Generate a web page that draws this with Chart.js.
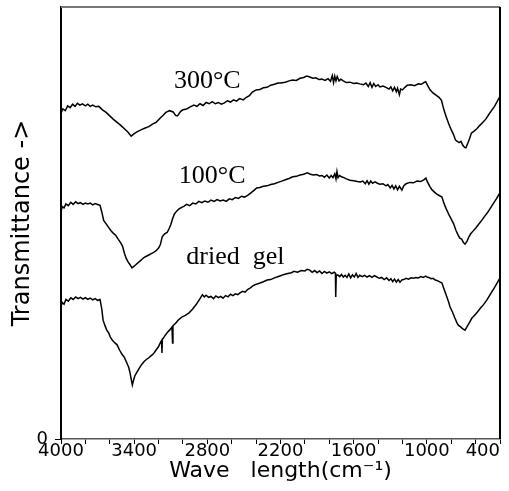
<!DOCTYPE html>
<html>
<head>
<meta charset="utf-8">
<script src="https://cdn.jsdelivr.net/npm/chart.js@4"></script>
<style>
  html, body { margin: 0; padding: 0; background: #fff; }
  canvas { display: block; }
</style>
</head>
<body>
<canvas id="chart" width="509" height="491"></canvas>
<script>
// IR spectra, wavenumber (cm-1) vs transmittance (arbitrary, 0 at the bottom axis)
const wave300 = [4000,3985,3965,3945,3925,3905,3885,3865,3845,3825,3800,3780,3760,3740,3715,3690,3660,3630,3600,3570,3540,3510,3480,3450,3425,3400,3370,3340,3310,3280,3250,3220,3190,3160,3140,3110,3080,3060,3045,3020,3000,2970,2940,2910,2885,2860,2835,2810,2785,2760,2735,2710,2685,2660,2635,2610,2585,2560,2535,2505,2480,2455,2430,2400,2370,2340,2310,2280,2250,2220,2200,2160,2130,2100,2070,2040,2010,1985,1960,1935,1910,1885,1860,1835,1810,1790,1775,1765,1755,1745,1735,1720,1705,1685,1660,1630,1600,1575,1550,1520,1500,1480,1465,1450,1435,1420,1400,1385,1360,1335,1310,1295,1280,1265,1250,1240,1225,1215,1200,1180,1160,1130,1100,1070,1045,1025,1010,995,975,950,925,900,880,860,840,820,800,780,765,750,735,720,705,690,680,665,650,635,615,590,565,540,515,495,470,445,420,400];
const trans300 = [75.4,76.4,76.0,77.1,76.7,77.5,77.0,77.7,77.3,77.6,77.1,77.5,77.0,77.3,76.9,77.0,76.2,75.6,74.8,74.0,73.3,72.6,71.8,71.0,70.1,70.7,71.2,71.6,72.0,72.3,72.9,73.3,74.2,75.0,75.6,76.0,75.7,74.9,74.8,75.8,76.2,76.4,76.9,77.3,77.0,77.6,77.2,77.9,77.6,78.1,77.6,77.9,77.5,77.8,78.3,78.0,78.5,78.2,78.8,78.5,79.1,79.5,80.3,80.8,80.9,81.3,81.4,81.9,82.1,82.4,82.4,82.6,82.9,83.1,83.0,83.5,83.7,84.0,83.8,83.5,83.6,83.2,83.3,83.0,83.4,82.8,84.1,82.5,84.0,82.9,83.9,82.9,83.3,82.9,82.5,82.6,82.3,82.4,82.2,82.0,82.4,81.6,82.5,81.4,82.3,81.6,82.0,81.5,81.7,81.4,81.0,81.5,80.6,81.4,80.4,81.2,79.7,81.0,80.8,81.4,81.9,82.0,81.8,82.2,82.1,82.5,82.7,81.9,80.9,80.1,79.6,79.1,78.4,76.2,74.5,72.9,71.6,70.4,69.2,68.9,68.6,68.9,68.0,67.5,67.4,68.4,69.5,70.8,71.2,71.8,72.6,73.3,74.1,75.0,76.0,77.0,78.3,79.3];

const wave100 = [4000,3990,3975,3960,3940,3920,3900,3880,3860,3840,3820,3800,3780,3760,3740,3720,3700,3680,3665,3650,3630,3610,3590,3570,3550,3530,3510,3495,3480,3465,3450,3435,3418,3400,3380,3360,3340,3320,3300,3280,3260,3240,3220,3200,3185,3170,3150,3130,3115,3100,3085,3070,3050,3030,3010,2990,2970,2945,2920,2895,2870,2845,2820,2795,2770,2745,2720,2695,2670,2645,2620,2595,2570,2545,2520,2495,2470,2445,2420,2395,2370,2340,2310,2280,2250,2220,2190,2160,2130,2100,2070,2040,2010,1980,1955,1930,1905,1880,1860,1840,1820,1800,1785,1770,1755,1745,1737,1728,1715,1700,1680,1660,1630,1600,1570,1545,1525,1505,1490,1475,1460,1445,1425,1405,1385,1360,1335,1320,1300,1285,1270,1255,1240,1225,1205,1190,1170,1140,1110,1080,1050,1025,1008,995,975,955,935,915,895,876,860,840,820,800,780,760,745,730,715,700,687,670,655,640,625,600,575,550,525,505,480,455,430,400];
const trans100 = [52.6,53.8,53.5,54.4,54.0,54.8,54.3,54.9,54.5,54.7,54.3,54.6,54.4,54.6,54.2,54.5,54.3,54.1,52.5,50.6,49.8,49.0,48.2,47.6,47.1,46.2,45.4,44.6,43.0,41.8,41.0,40.4,39.6,40.0,40.5,41.0,41.5,42.0,42.3,42.6,42.9,43.2,43.6,44.2,45.0,46.8,47.5,47.8,48.6,49.6,51.0,52.1,52.8,53.3,53.6,53.9,54.3,54.0,54.6,54.4,55.0,54.7,55.1,54.8,55.3,55.0,55.4,55.1,55.3,55.0,55.6,55.4,55.9,55.7,56.2,56.0,56.4,56.9,57.5,58.1,58.2,58.5,58.6,58.9,59.1,59.4,59.7,60.0,60.3,60.7,60.8,61.1,61.3,61.6,61.3,61.1,61.2,60.9,61.0,60.6,61.1,60.4,61.0,60.5,61.4,60.2,61.9,60.5,61.0,60.7,60.5,60.2,59.9,59.8,59.6,59.5,59.7,59.1,59.8,59.0,59.7,59.2,59.5,59.2,59.0,59.1,58.6,58.9,58.1,58.7,57.9,58.6,57.7,58.5,57.6,58.6,59.1,59.4,59.3,59.7,59.6,60.0,60.4,59.5,58.4,57.6,57.1,56.6,56.3,56.0,54.6,53.2,52.0,50.9,49.8,48.2,47.3,46.5,46.3,45.5,45.1,45.8,46.8,47.5,48.0,48.8,49.7,50.6,51.6,52.3,53.4,54.5,55.6,57.0];

const waveGel = [4000,3990,3975,3960,3940,3920,3900,3880,3860,3840,3820,3800,3780,3760,3740,3720,3700,3680,3665,3655,3640,3625,3610,3595,3580,3560,3540,3520,3500,3480,3460,3445,3434,3425,3415,3405,3395,3377,3360,3340,3320,3300,3280,3260,3240,3220,3200,3185,3175,3172,3169,3150,3130,3110,3090,3085,3082,3060,3040,3010,2980,2950,2920,2890,2860,2840,2825,2810,2790,2770,2750,2730,2710,2690,2672,2650,2630,2610,2590,2570,2550,2532,2510,2490,2470,2450,2430,2410,2390,2368,2340,2310,2280,2250,2229,2200,2170,2140,2110,2090,2060,2030,2000,1980,1960,1940,1920,1900,1880,1860,1840,1820,1800,1780,1760,1750,1747,1743,1730,1715,1700,1685,1670,1655,1640,1625,1610,1595,1580,1565,1550,1530,1510,1490,1470,1450,1430,1410,1390,1370,1350,1330,1310,1295,1280,1265,1250,1235,1220,1205,1190,1170,1150,1130,1110,1090,1070,1050,1030,1010,999,985,965,950,930,910,890,876,860,840,820,810,790,770,753,740,725,710,698,687,670,650,630,610,585,560,535,507,480,455,430,400];
const transGel = [30.6,31.6,31.2,32.3,31.9,32.7,32.3,32.9,32.5,32.8,32.4,32.7,32.3,32.6,32.2,32.5,32.1,32.3,30.0,27.5,26.3,25.2,24.6,23.6,22.9,22.3,21.8,20.6,19.6,18.9,17.6,16.6,15.3,14.0,12.5,13.6,14.6,15.5,16.3,17.2,17.9,18.4,18.8,19.3,19.8,20.6,21.4,22.3,22.8,19.9,23.0,23.8,24.6,25.2,25.9,22.2,26.2,26.8,27.5,28.2,28.6,29.2,30.1,31.2,32.5,33.4,32.9,33.3,32.8,33.0,32.5,33.1,32.7,33.0,32.6,33.2,32.9,33.5,33.2,33.6,33.4,33.8,34.2,34.0,34.6,34.9,35.4,35.7,35.9,36.1,36.4,36.8,36.9,37.3,37.5,37.8,38.1,38.3,38.5,38.8,38.6,39.0,38.9,39.3,39.1,38.6,39.0,38.5,38.9,38.3,38.8,38.4,38.7,38.3,38.6,38.4,32.9,37.8,38.0,37.6,38.1,37.5,37.9,37.4,38.2,37.3,38.0,37.5,38.3,37.4,37.9,37.6,37.9,37.5,37.8,37.4,37.8,37.5,37.2,37.4,36.9,37.3,36.7,37.1,36.4,37.0,36.3,36.9,36.3,36.8,36.9,37.2,37.0,37.3,37.2,37.4,37.3,37.6,37.4,37.7,37.5,37.4,37.1,37.2,36.8,36.6,36.3,36.1,34.8,33.2,31.6,30.6,29.4,28.0,26.9,26.3,26.0,25.6,25.4,25.2,26.0,27.0,28.0,28.6,29.4,30.3,31.1,32.2,33.5,34.6,35.8,37.3];

// labelled wavenumbers on the bottom axis (minor ticks every 200)
const xTickLabels = [4000, 3400, 2800, 2200, 1600, 1000, 400];

// curve captions, anchored in data coordinates (text baseline)
const curveNames = ['300\u00B0C', '100\u00B0C', 'dried  gel'];
const nameWave = [2800, 2760, 2570];
const nameTrans = [81.3, 59.3, 40.5];

const toPoints = (xs, ys) => xs.map((x, i) => ({ x: x, y: ys[i] }));

Chart.defaults.font.family = "'DejaVu Sans', sans-serif";
Chart.defaults.color = '#000';

// top/right frame edges, x tick labels kept inside the frame, curve captions
const frameAndCaptions = {
  id: 'frameAndCaptions',
  afterDraw(chart) {
    const { ctx, chartArea: a, scales } = chart;
    ctx.save();
    ctx.strokeStyle = '#777';
    ctx.lineWidth = 2;
    ctx.beginPath();
    ctx.moveTo(a.left, a.top);
    ctx.lineTo(a.right, a.top);
    ctx.stroke();
    ctx.strokeStyle = '#000';
    ctx.beginPath();
    ctx.moveTo(a.right, a.top);
    ctx.lineTo(a.right, a.bottom);
    ctx.stroke();

    ctx.fillStyle = '#000';
    ctx.font = "18px 'DejaVu Sans', sans-serif";
    ctx.textAlign = 'center';
    ctx.textBaseline = 'middle';
    xTickLabels.forEach((v) => {
      const t = String(v);
      const w = ctx.measureText(t).width;
      const px = Math.min(scales.x.getPixelForValue(v), a.right - w / 2);
      ctx.fillText(t, px, scales.x.top + 12);
    });

    ctx.font = "26px 'Liberation Serif', serif";
    ctx.textBaseline = 'alphabetic';
    curveNames.forEach((t, i) => {
      ctx.fillText(t, scales.x.getPixelForValue(nameWave[i]), scales.y.getPixelForValue(nameTrans[i]));
    });
    ctx.restore();
  }
};

const line = (pts) => ({
  data: pts,
  borderColor: '#000',
  borderWidth: 1.5,
  pointRadius: 0,
  tension: 0,
  fill: false
});

new Chart(document.getElementById('chart'), {
  type: 'line',
  data: {
    datasets: [
      line(toPoints(wave300, trans300)),
      line(toPoints(wave100, trans100)),
      line(toPoints(waveGel, transGel))
    ]
  },
  options: {
    responsive: false,
    animation: false,
    devicePixelRatio: 1,
    layout: { padding: { top: 7, right: 9, left: 0, bottom: 0 } },
    plugins: { legend: { display: false }, tooltip: { enabled: false } },
    scales: {
      x: {
        type: 'linear',
        reverse: true,
        min: 400,
        max: 4000,
        border: { color: '#555', width: 1.5 },
        grid: { drawOnChartArea: false, drawTicks: true, tickLength: 5, color: '#000' },
        ticks: {
          stepSize: 200,
          autoSkip: false,
          maxRotation: 0,
          display: false
        },
        title: {
          display: true,
          text: 'Wave   length(cm\u207B\u00B9)',
          font: { size: 22 },
          padding: { top: 0, bottom: 7 }
        },
        afterFit(scale) {
          scale.height = 52;
          scale.paddingLeft = 0;
          scale.paddingRight = 0;
        }
      },
      y: {
        min: 0,
        max: 100,
        border: { color: '#000', width: 2 },
        grid: { drawOnChartArea: false, drawTicks: true, tickLength: 6, color: '#000' },
        ticks: {
          stepSize: 100,
          padding: 7,
          font: { size: 18 },
          callback: (v) => (v === 0 ? '0' : null)
        },
        title: {
          display: true,
          text: 'Transmittance ->',
          font: { size: 24 },
          padding: { top: 8, bottom: 0 }
        },
        afterFit(scale) {
          scale.width = 61;
          scale.paddingTop = 0;
          scale.paddingBottom = 0;
        }
      }
    }
  },
  plugins: [frameAndCaptions]
});
</script>
</body>
</html>
